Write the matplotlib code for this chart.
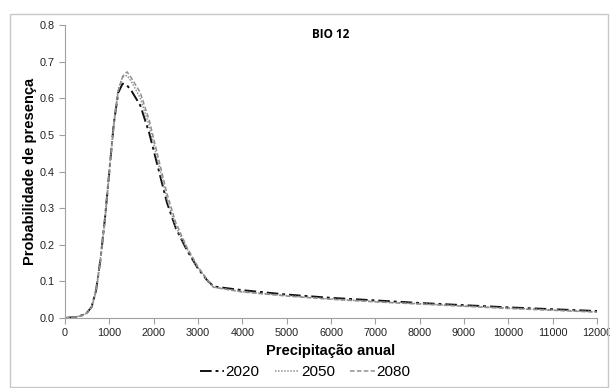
import numpy as np
import matplotlib.pyplot as plt
from matplotlib.patches import Rectangle

plt.rcParams['font.family'] = ['Liberation Sans', 'DejaVu Sans']

# precipitação anual (mm) e probabilidade de presença
x = [0, 250, 400, 500, 600, 700, 800, 900, 1000, 1100, 1200, 1300, 1400, 1500,
     1700, 1900, 2100, 2300, 2500, 2750, 3000, 3200, 3350, 4000, 5000, 6000,
     7000, 8000, 9000, 10000, 11000, 12000]
p2020 = [0.0, 0.003, 0.008, 0.015, 0.03, 0.075, 0.16, 0.27, 0.40, 0.53, 0.615, 0.64,
         0.635, 0.62, 0.58, 0.505, 0.41, 0.315, 0.245, 0.185, 0.135, 0.104, 0.086,
         0.076, 0.064, 0.055, 0.048, 0.041, 0.035, 0.029, 0.024, 0.019]
p2050 = [0.0, 0.003, 0.008, 0.015, 0.032, 0.078, 0.165, 0.275, 0.405, 0.535, 0.625, 0.658,
         0.662, 0.645, 0.60, 0.525, 0.425, 0.325, 0.25, 0.188, 0.136, 0.104, 0.084,
         0.072, 0.061, 0.052, 0.045, 0.039, 0.033, 0.027, 0.022, 0.017]
p2080 = [0.0, 0.003, 0.007, 0.014, 0.029, 0.072, 0.155, 0.265, 0.395, 0.525, 0.62, 0.66,
         0.672, 0.655, 0.615, 0.54, 0.44, 0.34, 0.26, 0.193, 0.14, 0.106, 0.084,
         0.071, 0.06, 0.051, 0.044, 0.038, 0.032, 0.026, 0.021, 0.016]
labels = ['2020', '2050', '2080']

fig = plt.figure(figsize=(6.1, 3.88), dpi=100)
fig.patches.append(Rectangle((10/610, 0.002), 598/610, 1 - 14/388 - 0.002,
                             transform=fig.transFigure, fill=False,
                             edgecolor='#c8c8c8', linewidth=1))
ax = fig.add_axes([65/610, 1 - 318/388, 532/610, 293/388])

ax.plot(x, p2020, color='#111111', linestyle=(0, (6, 2, 1.5, 2)), linewidth=1.4, label=labels[0])
ax.plot(x, p2050, color='#909090', linestyle=(0, (1, 1)), linewidth=1.1, label=labels[1])
ax.plot(x, p2080, color='#909090', linestyle=(0, (3, 1.5)), linewidth=1.1, label=labels[2])

ax.set_xlim(0, 12000)
ax.set_ylim(0, 0.8)
ax.set_xticks(range(0, 12001, 1000))
ax.set_yticks(np.arange(0, 0.81, 0.1))
ax.set_yticklabels([f'{v:.1f}' for v in np.arange(0, 0.81, 0.1)])
for s in ['top', 'right']:
    ax.spines[s].set_visible(False)
for s in ['left', 'bottom']:
    ax.spines[s].set_color('#a0a0a0')
ax.tick_params(colors='#a0a0a0', labelcolor='#222222', labelsize=7.8, length=4, direction='out')

ax.set_xlabel('Precipitação anual', fontsize=10.5, fontweight='bold', labelpad=4)
ax.set_ylabel('Probabilidade de presença', fontsize=10.5, fontweight='bold', labelpad=2)
ax.text(0.5, 0.99, 'BIO 12', transform=ax.transAxes, ha='center', va='top',
        fontsize=8.5, fontweight='bold', family=['Open Sans', 'DejaVu Sans'])

fig.legend(loc='center', bbox_to_anchor=(0.5, 1 - 372/388), ncol=3, frameon=False,
           fontsize=11, handlelength=1.6, handletextpad=0.1, columnspacing=1.0)

fig.savefig('out.png', dpi=100)
